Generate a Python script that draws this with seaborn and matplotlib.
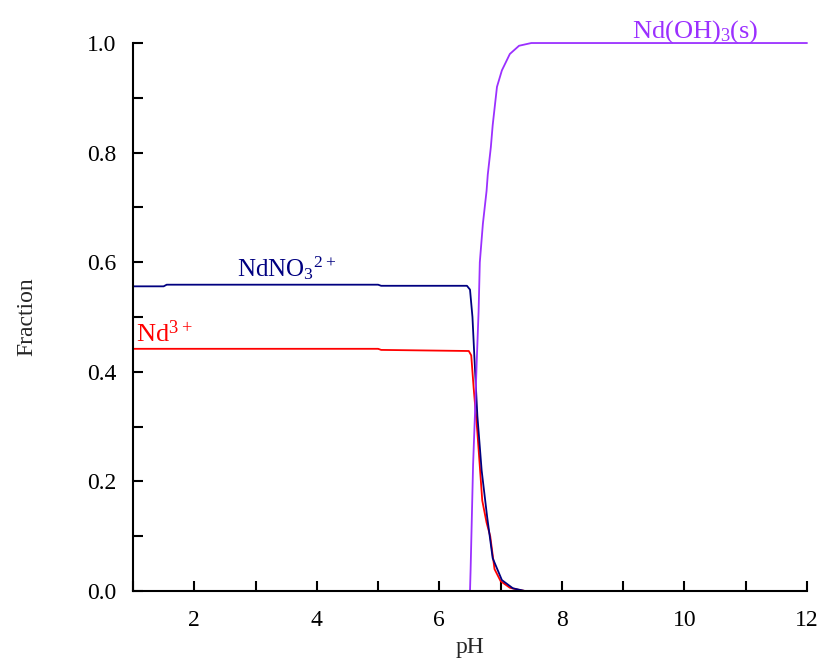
import matplotlib
matplotlib.use("Agg")
import matplotlib.pyplot as plt
import seaborn as sns
import pandas as pd
from matplotlib.ticker import MultipleLocator

# values
ph_nd = [1.0, 5.0, 5.05, 6.48, 6.52, 6.56, 6.62, 6.7, 6.77, 6.83, 6.9, 7.0, 7.15, 7.3, 7.4]
frac_nd = [0.442, 0.442, 0.44, 0.438, 0.43, 0.37, 0.29, 0.165, 0.125, 0.1, 0.04, 0.018, 0.006, 0.002, 0.0]

ph_nitrate = [1.0, 1.5, 1.55, 5.0, 5.05, 6.45, 6.5, 6.54, 6.57, 6.62, 6.69, 6.78, 6.87, 7.02, 7.2, 7.4]
frac_nitrate = [0.556, 0.556, 0.559, 0.559, 0.557, 0.557, 0.55, 0.5, 0.43, 0.32, 0.22, 0.135, 0.06, 0.02, 0.005, 0.0]

ph_solid = [6.5, 6.51, 6.55, 6.58, 6.61, 6.64, 6.66, 6.71, 6.77, 6.79, 6.84, 6.87, 6.94, 7.02, 7.15, 7.3, 7.5, 12.0]
frac_solid = [0.0, 0.04, 0.23, 0.32, 0.42, 0.51, 0.6, 0.67, 0.73, 0.76, 0.81, 0.85, 0.92, 0.95, 0.98, 0.995, 1.0, 1.0]

sns.set_style("ticks")
plt.rcParams["font.family"] = ["Liberation Serif", "DejaVu Serif"]
plt.rcParams["mathtext.fontset"] = "custom"
plt.rcParams["mathtext.rm"] = "Liberation Serif"

fig = plt.figure(figsize=(8.24, 6.67), dpi=100)
ax = fig.add_axes([0.1614, 0.1139, 0.8180, 0.8216])

curves = [
    (ph_nd, frac_nd, "#ff0000"),
    (ph_nitrate, frac_nitrate, "#000080"),
    (ph_solid, frac_solid, "#9b30ff"),
]
for xs, ys, col in curves:
    df = pd.DataFrame({"pH": xs, "Fraction": ys})
    sns.lineplot(data=df, x="pH", y="Fraction", color=col, linewidth=1.3,
                 ax=ax, clip_on=False)

ax.set_xlim(1, 12)
ax.set_ylim(0, 1.0)
ax.xaxis.set_major_locator(MultipleLocator(2))
ax.xaxis.set_minor_locator(MultipleLocator(1))
ax.yaxis.set_major_locator(MultipleLocator(0.2))
ax.yaxis.set_minor_locator(MultipleLocator(0.1))
ax.set_xticks([2, 4, 6, 8, 10, 12])
ax.set_xticklabels(["2", "4", "6", "8", "10", "12"])
ax.tick_params(which="both", direction="in", width=1.5, length=7,
               labelsize=17, colors="black")
ax.tick_params(axis="x", pad=14)
ax.tick_params(axis="y", pad=12)
for side in ["top", "right"]:
    ax.spines[side].set_visible(False)
for side in ["left", "bottom"]:
    ax.spines[side].set_linewidth(1.5)
    ax.spines[side].set_color("black")

ax.set_xlabel("pH", fontsize=17, labelpad=4)
ax.set_ylabel("Fraction", fontsize=17, labelpad=36)

ax.text(2.7, 0.575, r"$\mathregular{NdNO_3{}^{2+}}$", color="#000080", fontsize=18)
ax.text(1.05, 0.455, r"$\mathregular{Nd^{3+}}$", color="#ff0000", fontsize=19)
ax.text(9.15, 1.01, r"$\mathregular{Nd(OH)_3(s)}$", color="#9b30ff", fontsize=19)

fig.savefig("out.png", dpi=100)
